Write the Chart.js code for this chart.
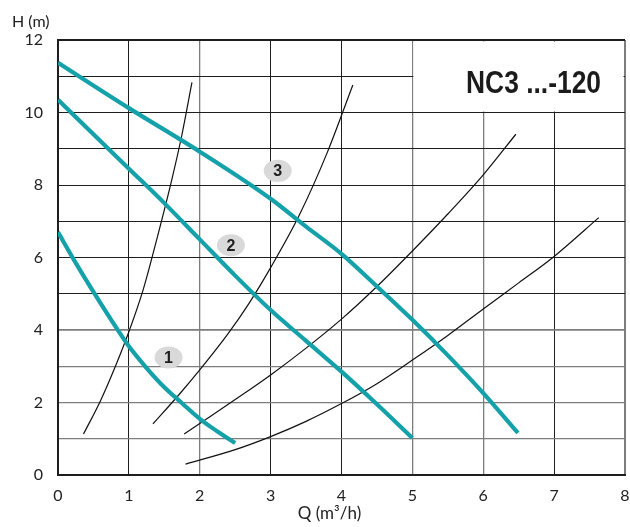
<!DOCTYPE html>
<html>
<head>
<meta charset="utf-8">
<script src="https://cdn.jsdelivr.net/npm/chart.js@4/dist/chart.umd.min.js"></script>
<style>
  html, body { margin: 0; padding: 0; background: #fff; }
  #wrap { width: 630px; height: 527px; }
</style>
</head>
<body>
<div id="wrap"><canvas id="c" width="630" height="527"></canvas></div>
<script>
// ---- data ----
const Q_TICKS = [0, 1, 2, 3, 4, 5, 6, 7, 8];
const H_TICKS = [0, 2, 4, 6, 8, 10, 12];

// pump curves (teal)
const curve1Q = [0, 0.25, 0.5, 0.75, 1.0, 1.25, 1.5, 1.75, 2.0, 2.25, 2.5];
const curve1H = [6.7, 5.85, 5.05, 4.28, 3.55, 2.95, 2.42, 1.98, 1.55, 1.2, 0.88];
const curve2Q = [0, 1.0, 1.5, 2.0, 2.5, 3.0, 3.5, 4.0, 4.5, 5.0];
const curve2H = [10.35, 8.45, 7.5, 6.5, 5.5, 4.55, 3.7, 2.85, 1.95, 1.02];
const curve3Q = [0, 1.0, 2.0, 3.0, 3.5, 4.0, 4.5, 5.0, 5.5, 6.0, 6.49];
const curve3H = [11.37, 10.12, 8.92, 7.62, 6.85, 6.1, 5.2, 4.28, 3.3, 2.26, 1.16];

// system curves (black)
const sysAQ = [0.36, 0.6, 0.8, 1.0, 1.2, 1.4, 1.6, 1.75, 1.89];
const sysAH = [1.13, 2.05, 2.95, 3.95, 5.1, 6.55, 8.1, 9.4, 10.83];
const sysBQ = [1.34, 1.7, 2.0, 2.4, 2.7, 3.0, 3.4, 3.8, 4.16];
const sysBH = [1.41, 2.2, 2.9, 3.9, 4.75, 5.72, 7.15, 8.9, 10.76];
const sysCQ = [1.78, 2.0, 2.5, 3.0, 3.5, 4.0, 4.5, 5.0, 5.5, 6.0, 6.46];
const sysCH = [1.13, 1.42, 2.08, 2.76, 3.5, 4.3, 5.2, 6.18, 7.2, 8.28, 9.4];
const sysDQ = [1.8, 2.5, 3.0, 3.5, 4.0, 4.5, 5.0, 5.5, 6.0, 6.5, 7.0, 7.63];
const sysDH = [0.3, 0.7, 1.06, 1.48, 1.97, 2.52, 3.17, 3.85, 4.58, 5.3, 6.03, 7.1];

// curve number badges
const badgeText = ['1', '2', '3'];
const badgeQ = [1.56, 2.44, 3.10];
const badgeH = [3.24, 6.34, 8.39];

// title box (Q range / H range kept free of grid)
const BOX_Q = [5, 8];
const BOX_H = [10, 12];
const TITLE = 'NC3 ...-120';
const Y_TITLE = 'H (m)';
const X_TITLE = 'Q (m\u00B3/h)';

// ---- helpers ----
const pts = (qs, hs) => qs.map((q, i) => ({ x: q, y: hs[i] }));
const TEAL = '#15a1a9';
const DARK = '#1e1e1e';
const GRAY = '#7d7d7d';

function pump(qs, hs) {
  return { data: pts(qs, hs), borderColor: TEAL, borderWidth: 4.2, pointRadius: 0,
           cubicInterpolationMode: 'monotone', fill: false, order: 1 };
}
function sys(qs, hs) {
  return { data: pts(qs, hs), borderColor: '#111', borderWidth: 1.2, pointRadius: 0,
           cubicInterpolationMode: 'monotone', fill: false, order: 2 };
}

const xGray = [2, 5, 6, 8];
const yGray = [1, 2, 3, 4];

const overlay = {
  id: 'overlay',
  beforeDatasetsDraw(chart) {
    const { ctx, chartArea: a, scales: { x, y } } = chart;
    const bx0 = x.getPixelForValue(BOX_Q[0]);
    const bx1 = x.getPixelForValue(BOX_Q[1]);
    const by0 = y.getPixelForValue(BOX_H[1]);
    const by1 = y.getPixelForValue(BOX_H[0]);
    ctx.save();
    ctx.fillStyle = '#fff';
    ctx.fillRect(bx0 + 1, by0 + 1.5, bx1 - bx0 - 2.5, by1 - by0 - 2.5);
    // title text, condensed
    ctx.font = 'bold 31px "Liberation Sans", Arial, sans-serif';
    const w = ctx.measureText(TITLE).width;
    const target = 135;
    const right = bx1 - 24;
    const base = by0 + 52.5;
    ctx.translate(right - target, base);
    ctx.scale(target / w, 1);
    ctx.fillStyle = '#1b1b1b';
    ctx.textAlign = 'left';
    ctx.textBaseline = 'alphabetic';
    ctx.fillText(TITLE, 0, 0);
    ctx.restore();

    // axis titles
    ctx.save();
    ctx.fillStyle = '#222';
    ctx.font = '16px Lato, "Open Sans", sans-serif';
    ctx.textAlign = 'left';
    ctx.textBaseline = 'middle';
    ctx.fillText(Y_TITLE, 12, a.top - 18);
    ctx.font = '17px Lato, "Open Sans", sans-serif';
    ctx.textAlign = 'center';
    ctx.fillText(X_TITLE, x.getPixelForValue(3.83), a.bottom + 39);
    ctx.restore();
  },
  afterDatasetsDraw(chart) {
    const { ctx, scales: { x, y } } = chart;
    ctx.save();
    badgeText.forEach((t, i) => {
      const cx = x.getPixelForValue(badgeQ[i]);
      const cy = y.getPixelForValue(badgeH[i]);
      ctx.beginPath();
      ctx.ellipse(cx, cy, 14, 11, 0, 0, Math.PI * 2);
      ctx.fillStyle = '#d9d9d9';
      ctx.fill();
      ctx.fillStyle = '#1e1e1e';
      ctx.font = 'bold 16px "Liberation Sans", Arial, sans-serif';
      ctx.textAlign = 'center';
      ctx.textBaseline = 'middle';
      ctx.fillText(t, cx, cy + 1);
    });
    ctx.restore();
  }
};

new Chart(document.getElementById('c'), {
  type: 'line',
  data: {
    datasets: [
      sys(sysAQ, sysAH), sys(sysBQ, sysBH), sys(sysCQ, sysCH), sys(sysDQ, sysDH),
      pump(curve1Q, curve1H), pump(curve2Q, curve2H), pump(curve3Q, curve3H)
    ]
  },
  options: {
    responsive: false,
    devicePixelRatio: 1,
    animation: false,
    layout: { padding: { top: 40, right: 5, left: 0, bottom: 0 } },
    plugins: { legend: { display: false }, tooltip: { enabled: false } },
    scales: {
      x: {
        type: 'linear',
        min: Q_TICKS[0], max: Q_TICKS[Q_TICKS.length - 1],
        afterBuildTicks: s => { s.ticks = Q_TICKS.map(v => ({ value: v })); },
        afterFit: s => { s.height = 52; s.paddingRight = 0; s.paddingLeft = 0; },
        ticks: { padding: 11, color: '#222', font: { family: 'Lato, "Open Sans", sans-serif', size: 16 },
                 callback: v => String(v), maxRotation: 0 },
        grid: {
          drawTicks: false,
          color: c => xGray.includes(c.tick.value) ? GRAY : DARK,
          lineWidth: c => c.tick.value === 8 ? 2 : (xGray.includes(c.tick.value) ? 1.3 : 1)
        },
        border: { display: true, color: DARK, width: 2 }
      },
      y: {
        type: 'linear',
        min: 0, max: 12,
        afterBuildTicks: s => { const t = []; for (let v = 0; v <= 12; v++) t.push({ value: v }); s.ticks = t; },
        afterFit: s => { s.width = 58; s.paddingTop = 0; s.paddingBottom = 0; },
        ticks: { padding: 15, color: '#222', font: { family: 'Lato, "Open Sans", sans-serif', size: 16 },
                 callback: v => H_TICKS.includes(v) ? String(v) : '' },
        grid: {
          drawTicks: false,
          color: c => yGray.includes(c.tick.value) ? GRAY : DARK,
          lineWidth: c => c.tick.value === 12 ? 2 : (c.tick.value === 4 ? 1.8 : (yGray.includes(c.tick.value) ? 1.3 : 1))
        },
        border: { display: true, color: DARK, width: 2 }
      }
    }
  },
  plugins: [overlay]
});
</script>
</body>
</html>
